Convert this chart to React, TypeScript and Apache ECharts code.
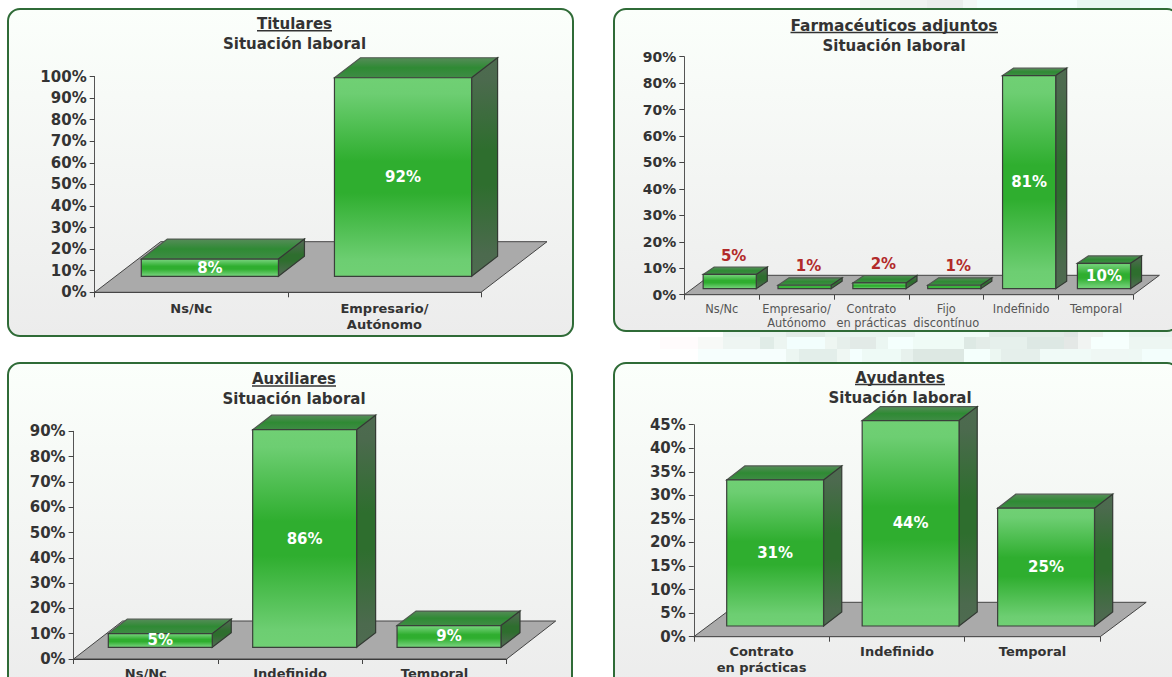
import React, { useEffect, useRef } from "react";
import * as echarts from "echarts";

// ---- data ----
const titularesCategories = ["Ns/Nc", "Empresario/\nAutónomo"];
const titularesValues = [8, 92];
const titularesOutside = [false, false];

const adjuntosCategories = ["Ns/Nc", "Empresario/\nAutónomo", "Contrato\nen prácticas", "Fijo\ndiscontínuo", "Indefinido", "Temporal"];
const adjuntosValues = [5.4, 1.3, 2.2, 1.3, 80.6, 9.6];
const adjuntosOutside = [true, true, true, true, false, false];

const auxiliaresCategories = ["Ns/Nc", "Indefinido", "Temporal"];
const auxiliaresValues = [5.4, 86, 8.6];
const auxiliaresOutside = [false, false, false];

const ayudantesCategories = ["Contrato\nen prácticas", "Indefinido", "Temporal"];
const ayudantesValues = [31, 43.6, 25];
const ayudantesOutside = [false, false, false];

const SUBTITLE = "Situación laboral";
const FONT = '"DejaVu Sans", Verdana, sans-serif';

// ---- layout of the four panels ----
const panels = [
  {
    title: "Titulares", categories: titularesCategories, values: titularesValues, outside: titularesOutside,
    box: [8, 9, 565, 327], cx: 294.5, titleY: 24, subY: 43.5, under: [257, 332, 30.5], titleFont: 15,
    grid: [94.7, 76.5, 386.3, 215.8], max: 100, interval: 10,
    floor: [66, 50.6], offset: [18.6, 16], depth: [26, 20], barFrac: 0.71,
    tickFont: 15, catFont: 13, catBold: true, catLine: 16, catMargin: 8,
  },
  {
    title: "Farmacéuticos adjuntos", categories: adjuntosCategories, values: adjuntosValues, outside: adjuntosOutside,
    box: [614, 9, 565, 322], cx: 894, titleY: 25.5, subY: 45.5, under: [790.5, 998, 32.3], titleFont: 15.4,
    grid: [684.3, 56.7, 449.1, 238], max: 90, interval: 10,
    floor: [26, 19.4], offset: [8, 6], depth: [11, 7.4], barFrac: 0.71,
    tickFont: 14, catFont: 11.4, catBold: false, catLine: 14, catMargin: 7,
  },
  {
    title: "Auxiliares", categories: auxiliaresCategories, values: auxiliaresValues, outside: auxiliaresOutside,
    box: [8, 363, 564, 327], cx: 294, titleY: 379, subY: 399, under: [252, 336, 385.7], titleFont: 15,
    grid: [73.6, 431.3, 433.1, 227.7], max: 90, interval: 10,
    floor: [49, 38], offset: [14.5, 11.7], depth: [19, 14.5], barFrac: 0.72,
    tickFont: 15, catFont: 13, catBold: true, catLine: 16, catMargin: 6,
  },
  {
    title: "Ayudantes", categories: ayudantesCategories, values: ayudantesValues, outside: ayudantesOutside,
    box: [614, 363, 565, 327], cx: 900, titleY: 378, subY: 398, under: [855, 945, 384.3], titleFont: 15,
    grid: [693.8, 424.7, 406.4, 212], max: 45, interval: 5,
    floor: [46, 34.4], offset: [13.6, 10.7], depth: [18.2, 14], barFrac: 0.715,
    tickFont: 15, catFont: 13, catBold: true, catLine: 16, catMargin: 7,
  },
];

// Faint blocks of the page's background image: [start, end, colour] in a strip
const mosaicTop: [number, number, string][] = [
  [860, 900, "#f4f8f5"], [900, 927, "#f0f3f1"], [927, 963, "#ebeeec"], [963, 977, "#f4f8f6"],
  [977, 1077, "#f4fffd"], [1077, 1140, "#e8f7f2"], [1140, 1172, "#f2fefc"],
];
const mosaicRow1: [number, number, string][] = [
  [723, 786, "#e9f3ef"], [786, 825, "#e1ebe7"], [825, 915, "#e8f3ef"], [915, 989, "#f0fbf7"],
  [989, 1064, "#e1ebe7"], [1064, 1078, "#dfe5e3"], [1078, 1103, "#f0f3f1"], [1103, 1129, "#f4fefc"], [1129, 1172, "#e9f3ef"],
];
const mosaicRow2: [number, number, string][] = [
  [660, 698, "#fffbfc"], [698, 723, "#f7f9f7"], [723, 760, "#eef5f2"], [760, 774, "#e0ece7"], [774, 787, "#ecf5f1"],
  [787, 825, "#f2fefd"], [825, 837, "#eef6f2"], [837, 850, "#e6efeb"], [850, 876, "#e2eae7"], [876, 888, "#ebf6f2"],
  [888, 913, "#f4fffd"], [913, 964, "#effbf6"], [964, 976, "#dde9e4"], [976, 990, "#e3ece8"], [990, 1027, "#e6f0ec"],
  [1027, 1064, "#dde8e4"], [1064, 1078, "#e4e8e6"], [1078, 1091, "#f1f4f2"], [1091, 1129, "#f6fffd"], [1129, 1172, "#edf6f2"],
];
const mosaicRow3: [number, number, string][] = [
  [698, 786, "#f6fefd"], [786, 799, "#ecf6f2"], [799, 837, "#e3eeea"], [837, 850, "#eff7f3"], [850, 862, "#f4fffe"],
  [862, 901, "#eefaf6"], [901, 913, "#e7f1ed"], [913, 964, "#dde8e3"], [964, 990, "#f4fffc"], [990, 1001, "#ecf7f2"],
  [1001, 1040, "#e5efeb"], [1040, 1091, "#f0faf7"], [1091, 1129, "#eff7f4"], [1129, 1142, "#eef8f4"], [1142, 1172, "#f3fefc"],
];

const FRONT_STOPS = [
  { offset: 0, color: "#70d074" }, { offset: 0.08, color: "#6dce72" }, { offset: 0.42, color: "#2fae2f" },
  { offset: 0.58, color: "#2fae2f" }, { offset: 0.92, color: "#6dce72" }, { offset: 1, color: "#70d074" },
];
const SIDE_STOPS = [
  { offset: 0, color: "#4e6b50" }, { offset: 0.1, color: "#4c6a4e" }, { offset: 0.42, color: "#2e6e2e" },
  { offset: 0.58, color: "#2e6e2e" }, { offset: 0.9, color: "#4c6a4e" }, { offset: 1, color: "#4e6b50" },
];
const TOP_STOPS = [
  { offset: 0, color: "#568c59" }, { offset: 0.5, color: "#2f8a34" }, { offset: 1, color: "#3f8c45" },
];

function mosaic(rows: [number, number, string][], y: number, h: number) {
  return rows.map(([a, b, color]) => ({
    type: "rect", z: -20, silent: true,
    shape: { x: a, y, width: b - a, height: h },
    style: { fill: color },
  }));
}

function buildOption() {
  const graphic: any[] = [
    ...mosaic(mosaicTop, 0, 9),
    ...mosaic(mosaicRow1, 331, 6),
    ...mosaic(mosaicRow2, 337, 12),
    ...mosaic(mosaicRow3, 349, 14),
  ];
  const grid: any[] = [];
  const xAxis: any[] = [];
  const yAxis: any[] = [];
  const series: any[] = [];
  const title: any[] = [];

  panels.forEach((p, i) => {
    graphic.push({
      type: "rect", z: -10, silent: true,
      shape: { x: p.box[0], y: p.box[1], width: p.box[2], height: p.box[3], r: 12 },
      style: {
        fill: new echarts.graphic.LinearGradient(0, 0, 0, 1, [
          { offset: 0, color: "#fbfffb" }, { offset: 1, color: "#ececec" },
        ]),
        stroke: "#2f6b37", lineWidth: 2,
      },
    });
    graphic.push({
      type: "rect", z: 50, silent: true,
      shape: { x: p.under[0], y: p.under[2] - 0.5, width: p.under[1] - p.under[0], height: 1.5 },
      style: { fill: "#333333" },
    });
    title.push({
      text: p.title, left: p.cx, top: p.titleY - 7.5, textAlign: "center", padding: 0,
      textStyle: { fontFamily: FONT, fontSize: p.titleFont, fontWeight: "bold", color: "#333333" },
    });
    title.push({
      text: SUBTITLE, left: p.cx, top: p.subY - 7.5, textAlign: "center", padding: 0,
      textStyle: { fontFamily: FONT, fontSize: 15, fontWeight: "bold", color: "#333333" },
    });

    grid.push({
      left: p.grid[0], top: p.grid[1], width: p.grid[2], height: p.grid[3],
      containLabel: false, outerBoundsMode: "none",
    });
    xAxis.push({
      type: "category", gridIndex: i, data: p.categories, boundaryGap: true,
      axisLine: { show: true, lineStyle: { color: "#333333", width: 1.2 } },
      axisTick: { show: true, length: 5, lineStyle: { color: "#444444" } },
      axisLabel: {
        interval: 0, margin: p.catMargin, lineHeight: p.catLine, fontFamily: FONT, fontSize: p.catFont,
        fontWeight: p.catBold ? "bold" : "normal", color: p.catBold ? "#333333" : "#555555",
      },
    });
    yAxis.push({
      type: "value", gridIndex: i, min: 0, max: p.max, interval: p.interval,
      splitLine: { show: false },
      axisLine: { show: true, lineStyle: { color: "#555555", width: 1 } },
      axisTick: { show: true, length: 5, lineStyle: { color: "#444444" } },
      axisLabel: {
        margin: 8, formatter: "{value}%", fontFamily: FONT, fontSize: p.tickFont, fontWeight: "bold", color: "#333333",
      },
    });

    // floor
    series.push({
      type: "custom", xAxisIndex: i, yAxisIndex: i, z: 1, silent: true,
      data: [[0, 0]],
      renderItem: (params: any) => {
        const c = params.coordSys;
        const by = c.y + c.height;
        return {
          type: "polygon",
          shape: {
            points: [
              [c.x, by], [c.x + c.width, by],
              [c.x + c.width + p.floor[0], by - p.floor[1]], [c.x + p.floor[0], by - p.floor[1]],
            ],
          },
          style: { fill: "#aaaaaa", stroke: "#444444", lineWidth: 1 },
        };
      },
    });

    // bars
    series.push({
      type: "custom", xAxisIndex: i, yAxisIndex: i, z: 3, silent: true,
      encode: { x: 0, y: 1 },
      data: p.values.map((v, k) => [k, v]),
      renderItem: (params: any, api: any) => {
        const k = api.value(0);
        const v = api.value(1);
        const base = api.coord([k, 0]);
        const top = api.coord([k, v]);
        const band = api.size([1, 0])[0];
        const w = band * p.barFrac;
        const x0 = base[0] - w / 2 + p.offset[0];
        const x1 = x0 + w;
        const y1 = base[1] - p.offset[1];
        const y0 = top[1] - p.offset[1];
        const [dx, dy] = p.depth;
        const outside = p.outside[k];
        const label = Math.round(v) + "%";
        return {
          type: "group",
          children: [
            {
              type: "polygon",
              shape: { points: [[x0, y0], [x0 + dx, y0 - dy], [x1 + dx, y0 - dy], [x1, y0]] },
              style: { fill: new echarts.graphic.LinearGradient(0, 0, 0, 1, TOP_STOPS), stroke: "#505a50", lineWidth: 1.2 },
            },
            {
              type: "polygon",
              shape: { points: [[x1, y0], [x1 + dx, y0 - dy], [x1 + dx, y1 - dy], [x1, y1]] },
              style: { fill: new echarts.graphic.LinearGradient(0, 0, 0, 1, SIDE_STOPS), stroke: "#333a33", lineWidth: 1.2 },
            },
            {
              type: "polygon",
              shape: { points: [[x0, y0], [x1, y0], [x1, y1], [x0, y1]] },
              style: { fill: new echarts.graphic.LinearGradient(0, 0, 0, 1, FRONT_STOPS), stroke: "#3a3f3a", lineWidth: 1.2 },
            },
            {
              type: "text",
              style: {
                text: label,
                x: outside ? (x0 + x1) / 2 + dx * 0.36 : (x0 + x1) / 2,
                y: outside ? y0 - dy - 11.5 : (y0 + y1) / 2,
                align: "center", verticalAlign: "middle",
                fill: outside ? "#b22a2a" : "#ffffff",
                font: `bold 15px ${FONT}`,
              },
            },
          ],
        };
      },
    });
  });

  return { animation: false, backgroundColor: "#ffffff", title, graphic, grid, xAxis, yAxis, series };
}

export default function App() {
  const ref = useRef<HTMLDivElement>(null);
  useEffect(() => {
    document.body.style.margin = "0";
    document.body.style.overflow = "hidden";
    const chart = echarts.init(ref.current!, undefined, { renderer: "svg" });
    chart.setOption(buildOption() as any);
    return () => chart.dispose();
  }, []);
  return <div ref={ref} style={{ width: 1172, height: 677 }} />;
}
